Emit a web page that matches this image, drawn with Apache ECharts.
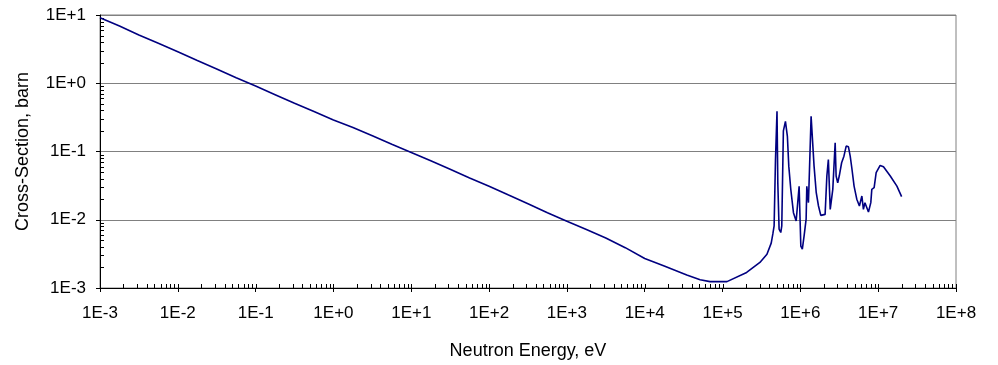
<!DOCTYPE html>
<html>
<head>
<meta charset="utf-8">
<script src="https://cdn.jsdelivr.net/npm/echarts@6/dist/echarts.min.js"></script>
<style>
  html, body { margin: 0; padding: 0; background: #fff; }
  #chart { width: 998px; height: 365px; }
</style>
</head>
<body>
<div id="chart"></div>
<script>
// Neutron energy grid (eV) and the matching cross-section (barn)
const energy = [
  1e-3, 1.78e-3, 3.16e-3, 5.62e-3, 1e-2, 1.78e-2, 3.16e-2, 5.62e-2,
  1e-1, 1.78e-1, 3.16e-1, 5.62e-1, 1, 1.78, 3.16, 5.62,
  10, 17.8, 31.6, 56.2, 100, 178, 316, 562,
  1000, 1780, 3160, 5620, 1e4, 1.78e4, 3.47e4, 5.15e4, 6.9e4, 1.14e5,
  2.04e5, 3.02e5, 3.72e5, 4.22e5, 4.43e5, 4.60e5, 4.79e5, 5.01e5, 5.13e5, 5.33e5,
  5.60e5, 5.77e5, 6.05e5, 6.43e5, 6.81e5, 7.10e5, 7.53e5, 8.15e5, 8.83e5, 9.16e5,
  9.64e5, 1.014e6, 1.06e6, 1.117e6, 1.186e6, 1.21e6, 1.27e6, 1.31e6, 1.374e6, 1.445e6,
  1.50e6, 1.60e6, 1.71e6, 1.83e6, 2.08e6, 2.19e6, 2.29e6, 2.42e6, 2.61e6, 2.80e6,
  2.88e6, 3.02e6, 3.16e6, 3.39e6, 3.63e6, 3.88e6, 4.15e6, 4.37e6, 4.58e6, 4.90e6,
  5.31e6, 5.74e6, 6.17e6, 6.46e6, 6.76e6, 7.50e6, 8.04e6, 8.28e6, 8.87e6, 9.42e6,
  1.06e7, 1.17e7, 1.43e7, 1.74e7, 2.0e7
];
const crossSection = [
  9.1, 6.9, 5.1, 3.85, 2.9, 2.15, 1.62, 1.2,
  0.91, 0.68, 0.51, 0.385, 0.29, 0.225, 0.17, 0.128,
  0.097, 0.073, 0.055, 0.041, 0.031, 0.023, 0.0172, 0.0127,
  0.0095, 0.0072, 0.0054, 0.0039, 0.0027, 0.0021, 0.00155, 0.00132, 0.00124, 0.00124,
  0.00169, 0.00237, 0.00313, 0.00454, 0.0062, 0.0081, 0.076, 0.39, 0.035, 0.0073,
  0.0065, 0.0081, 0.20, 0.277, 0.167, 0.061, 0.028, 0.0127, 0.0096, 0.0091,
  0.031, 0.0041, 0.0037, 0.0058, 0.0102, 0.031, 0.0178, 0.0546, 0.327, 0.347,
  0.061, 0.0249, 0.0159, 0.0116, 0.012, 0.0437, 0.076, 0.0142, 0.0279, 0.134,
  0.0437, 0.0349, 0.0437, 0.0684, 0.0855, 0.12, 0.117, 0.0855, 0.0578, 0.0311,
  0.02, 0.0159, 0.0223, 0.0142, 0.0178, 0.013, 0.0178, 0.0279, 0.0295, 0.0489,
  0.0625, 0.0597, 0.0437, 0.0311, 0.0218
];

// Axis ranges as powers of ten
const xDecades = [-3, 8];
const yDecades = [-3, 1];

const points = energy.map((e, i) => [e, crossSection[i]]);

function sciLabel(v) {
  const p = Math.round(Math.log10(v));
  return '1E' + (p >= 0 ? '+' : '') + p;
}

// Tick positions inside the plot: majors at decades, minors at 2..9 x 10^k
function tickValues(dec) {
  const list = [];
  for (let k = dec[0]; k <= dec[1]; k++) {
    list.push({ v: Math.pow(10, k), major: true });
    if (k < dec[1]) {
      for (let m = 2; m <= 9; m++) list.push({ v: m * Math.pow(10, k), major: false });
    }
  }
  return list;
}
const xTicks = tickValues(xDecades);
const yTicks = tickValues(yDecades);

const FONT = '"Liberation Sans", Arial, sans-serif';
const chart = echarts.init(document.getElementById('chart'), null, { renderer: 'canvas' });

chart.setOption({
  backgroundColor: '#ffffff',
  animation: false,
  grid: {
    left: 100, right: 42, top: 15, bottom: 76,
    show: true, borderColor: '#808080', borderWidth: 1, backgroundColor: 'transparent'
  },
  xAxis: {
    type: 'log', logBase: 10,
    min: Math.pow(10, xDecades[0]), max: Math.pow(10, xDecades[1]),
    interval: 1,
    name: 'Neutron Energy, eV',
    nameLocation: 'middle', nameGap: 54,
    nameTextStyle: { fontFamily: FONT, fontSize: 18, color: '#000' },
    axisLine: { show: true, onZero: false, lineStyle: { color: '#000', width: 1 } },
    axisTick: { show: true, inside: false, length: 4, lineStyle: { color: '#000' } },
    axisLabel: { formatter: sciLabel, fontFamily: FONT, fontSize: 17, color: '#000', margin: 17 },
    splitLine: { show: false },
    minorTick: { show: false }
  },
  yAxis: {
    type: 'log', logBase: 10,
    min: Math.pow(10, yDecades[0]), max: Math.pow(10, yDecades[1]),
    interval: 1,
    name: 'Cross-Section, barn',
    nameLocation: 'middle', nameGap: 68,
    nameTextStyle: { fontFamily: FONT, fontSize: 18, color: '#000' },
    axisLine: { show: true, onZero: false, lineStyle: { color: '#000', width: 1 } },
    axisTick: { show: true, inside: false, length: 4, lineStyle: { color: '#000' } },
    axisLabel: { formatter: sciLabel, fontFamily: FONT, fontSize: 17, color: '#000', margin: 14 },
    splitLine: { show: true, lineStyle: { color: '#808080', width: 1 } },
    minorTick: { show: false }
  },
  series: [
    {
      // inward minor and major tick marks on both axes
      type: 'custom',
      silent: true,
      z: 5,
      data: [0],
      renderItem: function (params, api) {
        const children = [];
        xTicks.forEach(t => {
          const p = api.coord([t.v, Math.pow(10, yDecades[0])]);
          const x = Math.round(p[0]) + 0.5;
          children.push({ type: 'line', shape: { x1: x, y1: p[1], x2: x, y2: p[1] - 4 },
            style: { stroke: '#000', lineWidth: 1 } });
        });
        yTicks.forEach(t => {
          const p = api.coord([Math.pow(10, xDecades[0]), t.v]);
          const y = Math.round(p[1]) + 0.5;
          if (!t.major) {
            children.push({ type: 'line', shape: { x1: p[0], y1: y, x2: p[0] + 4, y2: y },
              style: { stroke: '#000', lineWidth: 1 } });
          }
        });
        return { type: 'group', children: children };
      }
    },
    {
      type: 'line',
      data: points,
      showSymbol: false,
      symbol: 'none',
      z: 10,
      lineStyle: { color: '#000080', width: 1.6 }
    }
  ]
});
</script>
</body>
</html>
